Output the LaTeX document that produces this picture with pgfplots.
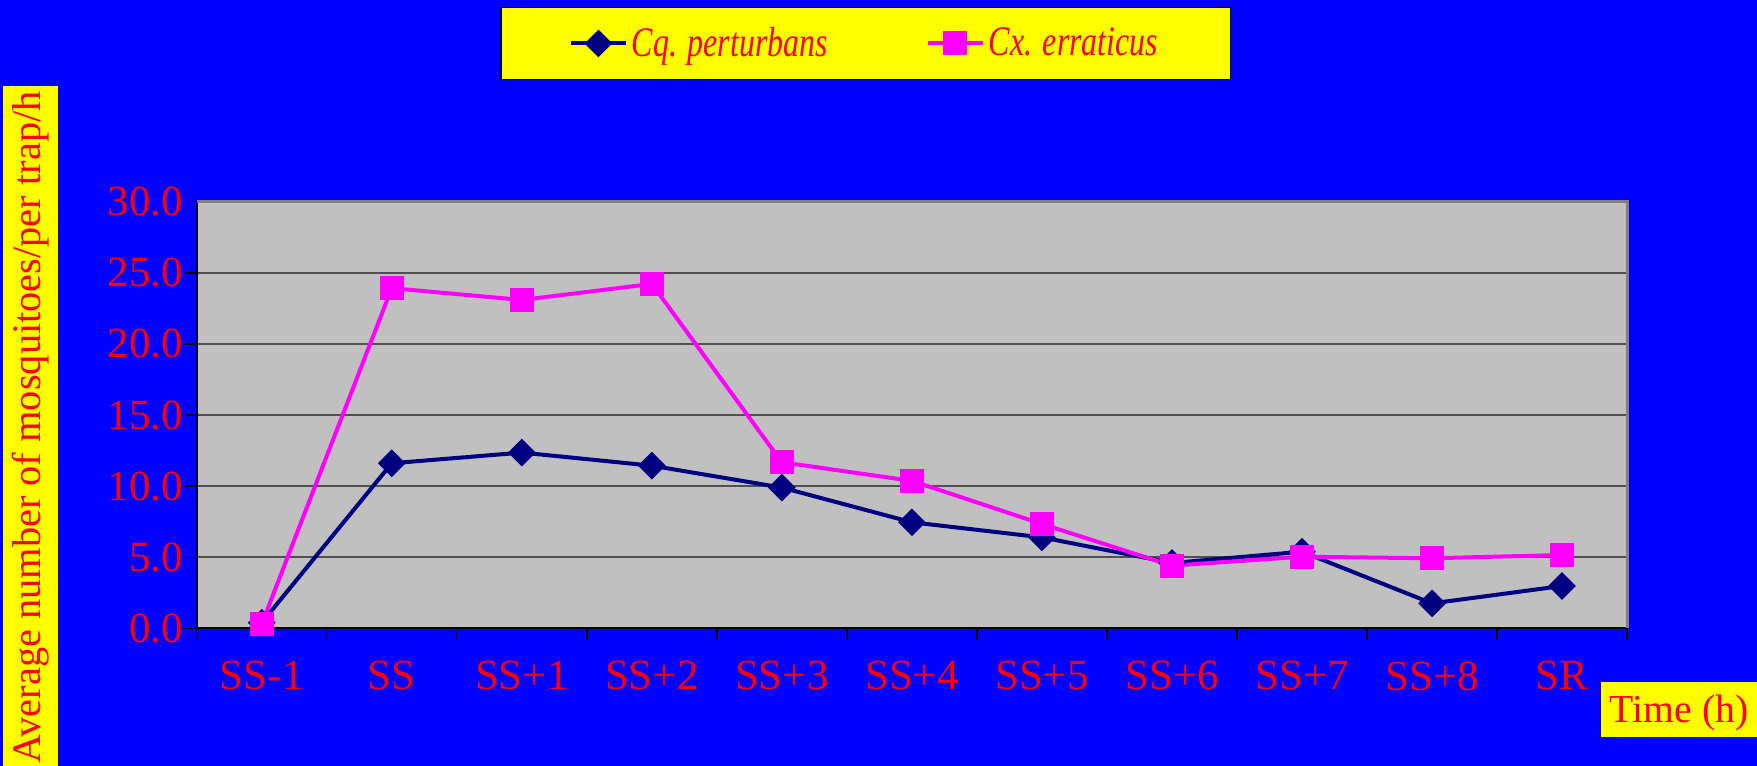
\documentclass[border=0pt]{standalone}
\usepackage{fontspec}
\setmainfont{Liberation Serif}
\newfontfamily\legendfont[FakeStretch=0.76]{Liberation Serif}
\usepackage{pgfplots}
\pgfplotsset{compat=1.18}

\definecolor{bgblue}{HTML}{0000FF}
\definecolor{plotgray}{HTML}{C0C0C0}
\definecolor{gridgray}{HTML}{505050}
\definecolor{shadowgray}{HTML}{808080}
\definecolor{cqnavy}{HTML}{000080}
\definecolor{cxmagenta}{HTML}{FF00FF}
\definecolor{labelred}{HTML}{FF0000}
\definecolor{boxyellow}{HTML}{FFFF00}

\newcommand{\chartfont}{\fontsize{19.85}{22}\selectfont}
\newcommand{\tickfont}{\fontsize{21.5}{24}\selectfont}
\newcommand{\legfont}{\fontsize{21}{23}\selectfont}

\begin{document}
\begin{tikzpicture}
% blue page background
\fill[bgblue] (-98.35pt,-68.8pt) rectangle (780.15pt,314.2pt);

\begin{axis}[
  at={(0pt,0pt)}, anchor=south west,
  scale only axis,
  width=715.2pt, height=213.35pt,
  xmin=-0.5, xmax=10.5,
  ymin=0, ymax=30,
  clip=false,
  axis background/.style={fill=plotgray},
  axis x line*=bottom, axis y line*=left,
  axis line style={black, line width=1pt, -},
  xtick={0,...,10},
  xticklabels={SS-1,SS,SS+1,SS+2,SS+3,SS+4,SS+5,SS+6,SS+7,SS+8,SR},
  major x tick style={draw=none},
  minor xtick={-0.5,0.5,...,10.5},
  ytick={0,5,...,30},
  ymajorgrids,
  grid style={gridgray, line width=0.8pt},
  tick align=outside,
  major tick length=6pt, minor tick length=6pt,
  tick style={black, line width=0.7pt},
  ticklabel style={font=\tickfont, text=labelred},
  /pgf/number format/assume math mode=true,
  yticklabel style={xshift=2.8pt, /pgf/number format/.cd, fixed, fixed zerofill, precision=1},
  xticklabel style={yshift=-7pt},
  legend columns=2,
  legend style={
    at={(rel axis cs:0.4676,1.3708)}, anchor=center,
    fill=boxyellow, draw=black, line width=0.6pt,
    font=\legfont\legendfont\itshape, text=labelred,
    inner xsep=34pt, inner ysep=8pt,
    /tikz/every even column/.append style={column sep=47pt},
  },
  legend image code/.code={
    \draw[mark repeat=2, mark phase=2, #1]
      plot coordinates {(0pt,0pt) (13.75pt,0pt) (27.5pt,0pt)};
  },
]
\addplot[color=cqnavy, line width=2pt, mark=square*,
  mark size=3.9pt, mark options={rotate=45, solid, fill=cqnavy}]
  coordinates {(0,0.4) (1,11.61) (2,12.36) (3,11.44) (4,9.9) (5,7.46)
               (6,6.4) (7,4.6) (8,5.39) (9,1.76) (10,2.98)};
\addlegendentry{Cq. perturbans}

\addplot[color=cxmagenta, line width=2pt, mark=square*,
  mark size=5pt, mark options={solid, fill=cxmagenta}]
  coordinates {(0,0.3) (1,23.92) (2,23.09) (3,24.22) (4,11.68) (5,10.37)
               (6,7.34) (7,4.41) (8,5.04) (9,4.93) (10,5.16)};
\addlegendentry{Cx. erraticus}

% grey shadow on top and right edges of the plot area
\draw[shadowgray, line width=1.5pt]
  (rel axis cs:0,1) -- (rel axis cs:1,1) -- (rel axis cs:1,0);
\end{axis}

% y axis title box
\node[fill=boxyellow, minimum width=27.5pt, minimum height=340pt, inner sep=0pt]
  at (-83.1pt,101.2pt) {};
\node[rotate=90, text=labelred, font=\fontsize{20.2}{22}\selectfont, inner sep=0pt]
  at (-83.1pt,100.45pt) {Average number of mosquitoes/per trap/h};

% x axis title box
\node[fill=boxyellow, minimum width=78pt, minimum height=27.5pt, inner sep=0pt]
  at (741.15pt,-40.55pt) {};
\node[anchor=base, text=labelred, font=\chartfont, inner sep=0pt]
  at (741.15pt,-47.15pt) {Time (h)};
\end{tikzpicture}
\end{document}
